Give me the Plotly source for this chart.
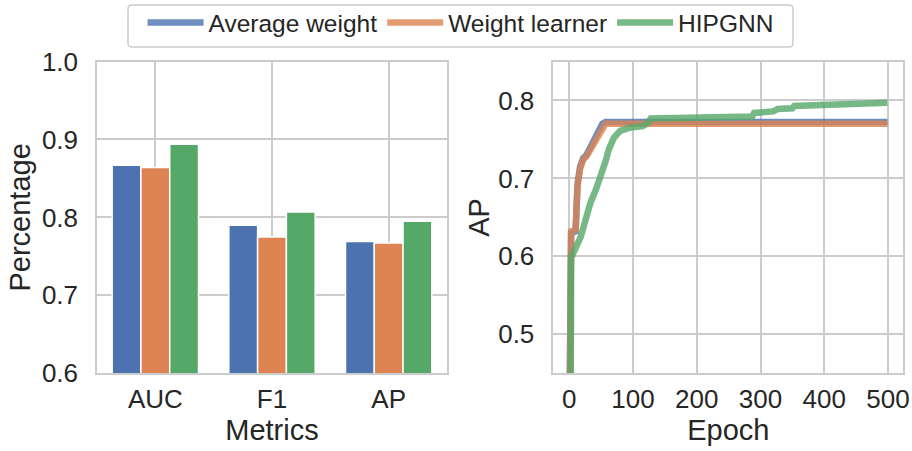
import plotly.graph_objects as go

# ---- data ----
metrics = ["AUC", "F1", "AP"]
series_names = ["Average weight", "Weight learner", "HIPGNN"]
bar_avg = [0.867, 0.790, 0.769]
bar_learner = [0.864, 0.775, 0.767]
bar_hipgnn = [0.894, 0.807, 0.795]

epoch_avg = [0, 1, 3, 10, 13, 17, 22, 27, 32, 37, 42, 47, 52, 57, 499]
ap_avg = [0.35, 0.60, 0.630, 0.632, 0.692, 0.715, 0.726, 0.730, 0.738, 0.748, 0.755, 0.764, 0.770, 0.7725, 0.7725]

epoch_learner = [0, 1, 3, 10, 13, 17, 22, 27, 32, 37, 42, 47, 52, 57, 499]
ap_learner = [0.35, 0.60, 0.632, 0.634, 0.690, 0.712, 0.724, 0.728, 0.735, 0.745, 0.752, 0.760, 0.766, 0.770, 0.770]

epoch_hipgnn = [0, 2, 3, 10, 18, 25, 33, 42, 50, 57, 62, 70, 80, 95, 115, 122, 128, 200, 287, 290,
                320, 327, 350, 353, 400, 450, 475, 479, 499]
ap_hipgnn = [0.30, 0.32, 0.598, 0.610, 0.625, 0.645, 0.668, 0.686, 0.703, 0.722, 0.737, 0.752, 0.761,
             0.765, 0.767, 0.770, 0.777, 0.778, 0.7795, 0.784, 0.786, 0.789, 0.790, 0.793, 0.794,
             0.795, 0.796, 0.797, 0.797]

colors = ["#4C72B0", "#DD8452", "#55A868"]
FONT = "Liberation Sans, Arial, sans-serif"
TXT = "#262626"
GRID = "#cccccc"
W, H = 912, 451

fig = go.Figure()

for name, vals, c in zip(series_names, [bar_avg, bar_learner, bar_hipgnn], colors):
    fig.add_trace(go.Bar(x=metrics, y=vals, name=name, marker=dict(color=c, line=dict(color="white", width=1.5)),
                         showlegend=False, xaxis="x", yaxis="y"))

for name, ex, vals, c in zip(series_names, [epoch_avg, epoch_learner, epoch_hipgnn],
                              [ap_avg, ap_learner, ap_hipgnn], colors):
    fig.add_trace(go.Scatter(x=ex, y=vals, mode="lines", name=name, opacity=0.8,
                             line=dict(color=c, width=6.5), xaxis="x2", yaxis="y2"))

ax_common = dict(showline=True, mirror=True, linecolor=GRID, linewidth=1.5, showgrid=True,
                 gridcolor=GRID, gridwidth=1.5, zeroline=False, ticks="", automargin=False,
                 tickfont=dict(size=26, color=TXT, family=FONT),
                 title_font=dict(size=29, color=TXT, family=FONT))

# rounded legend frame (pixels -> paper fractions)
lx0, lx1, ly0, ly1, r = 128, 793, 5, 47, 4
def px(x): return x / W
def py(y): return 1 - y / H
frame_path = (f"M{px(lx0+r)},{py(ly0)} L{px(lx1-r)},{py(ly0)} Q{px(lx1)},{py(ly0)} {px(lx1)},{py(ly0+r)} "
              f"L{px(lx1)},{py(ly1-r)} Q{px(lx1)},{py(ly1)} {px(lx1-r)},{py(ly1)} "
              f"L{px(lx0+r)},{py(ly1)} Q{px(lx0)},{py(ly1)} {px(lx0)},{py(ly1-r)} "
              f"L{px(lx0)},{py(ly0+r)} Q{px(lx0)},{py(ly0)} {px(lx0+r)},{py(ly0)} Z")

fig.update_layout(
    width=W, height=H,
    margin=dict(l=0, r=0, t=0, b=0),
    paper_bgcolor="white", plot_bgcolor="white",
    font=dict(family=FONT, color=TXT),
    barmode="group", bargap=0.26, bargroupgap=0,
    xaxis=dict(domain=[97/W, 447/W], range=[-0.5, 2.5], anchor="y",
               title=dict(text="Metrics", standoff=6), ticklabelstandoff=2, **ax_common),
    yaxis=dict(domain=[(H-373.3)/H, (H-61.5)/H], range=[0.6, 1.0], dtick=0.1, tickformat=".1f",
               anchor="x", title=dict(text="Percentage", standoff=3), ticklabelstandoff=12, **ax_common),
    xaxis2=dict(domain=[553.3/W, 903.3/W], range=[-24.95, 523.95], dtick=100, anchor="y2",
                title=dict(text="Epoch", standoff=6), ticklabelstandoff=2, **ax_common),
    yaxis2=dict(domain=[(H-373.3)/H, (H-61.5)/H], range=[0.45, 0.85],
                tickvals=[0.5, 0.6, 0.7, 0.8], tickformat=".1f", anchor="x2",
                title=dict(text="AP", standoff=0), ticklabelstandoff=12, **ax_common),
    legend=dict(orientation="h", x=0.505, xanchor="center", y=1.0, yanchor="top",
                borderwidth=0, bgcolor="rgba(0,0,0,0)",
                font=dict(size=24.5, color=TXT, family=FONT), itemwidth=56),
    shapes=[dict(type="path", path=frame_path, xref="paper", yref="paper",
                 line=dict(color=GRID, width=1.5), fillcolor="white", layer="above")],
)

fig.write_html("out.html")
